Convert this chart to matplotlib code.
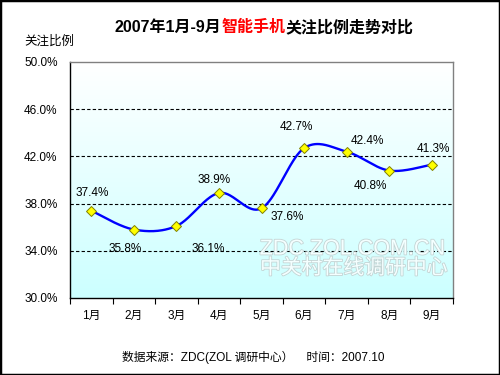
import numpy as np
import matplotlib
matplotlib.use("Agg")
import matplotlib.pyplot as plt
from matplotlib.patches import Rectangle
import matplotlib.patheffects as pe

plt.rcParams['font.family'] = ['Liberation Sans', 'Noto Sans CJK SC', 'DejaVu Sans']

months = ['1月', '2月', '3月', '4月', '5月', '6月', '7月', '8月', '9月']
values = [37.4, 35.8, 36.1, 38.9, 37.6, 42.7, 42.4, 40.8, 41.3]
yticks = [30.0, 34.0, 38.0, 42.0, 46.0, 50.0]
title_parts = ['2007年1月-9月', '智能手机', '关注比例走势对比']
title_colors = ['black', 'red', 'black']
ylabel = '关注比例'
footer = '数据来源：ZDC(ZOL 调研中心）    时间：2007.10'
watermark1 = 'ZDC.ZOL.COM.CN'
watermark2 = '中关村在线调研中心'

# label offsets in pixels (dx, dy)
label_offsets = [(1, 18), (-9, -19), (32, -23), (-5, 13), (26, -9),
                 (-8, 21), (21, 11), (-19, -15), (2, 16)]

W, H = 500, 375
fig = plt.figure(figsize=(5, 3.75), dpi=100)
ax = fig.add_axes([70 / W, 1 - 298 / H, (453 - 70) / W, (298 - 62) / H])

x = np.arange(len(values))
ax.set_xlim(-0.5, len(values) - 0.5)
ax.set_ylim(30, 50)

# gradient background
grad = np.linspace(0, 1, 256).reshape(-1, 1)
top = np.array([1.0, 1.0, 1.0])
bot = np.array([204, 255, 255]) / 255.0
img = top[None, None, :] * (1 - grad[:, :, None]) + bot[None, None, :] * grad[:, :, None]
ax.imshow(img, extent=[-0.5, len(values) - 0.5, 30, 50], aspect='auto', zorder=0)

# gridlines
for yv in yticks[1:-1]:
    ax.axhline(yv, color='black', linestyle=(0, (3, 2)), linewidth=0.8, zorder=1)

# smooth curve (Excel-like Bezier through the data points)
P = np.column_stack([x, values]).astype(float)
n = len(P)
curve = []
for i in range(n - 1):
    p0 = P[max(i - 1, 0)]
    p1 = P[i]
    p2 = P[i + 1]
    p3 = P[min(i + 2, n - 1)]
    c1 = p1 + (p2 - p0) / 6.0
    c2 = p2 - (p3 - p1) / 6.0
    t = np.linspace(0, 1, 40)[:, None]
    seg = ((1 - t) ** 3) * p1 + 3 * ((1 - t) ** 2) * t * c1 + 3 * (1 - t) * t ** 2 * c2 + t ** 3 * p2
    curve.append(seg if i == 0 else seg[1:])
curve = np.vstack(curve)
ax.plot(curve[:, 0], curve[:, 1], color='#0000ff', linewidth=1.7, zorder=3)
ax.plot(x, values, linestyle='none', marker='D', markersize=5,
        markerfacecolor='#ffff00', markeredgecolor='#808000', markeredgewidth=0.7, zorder=4)

for xi, v, (dx, dy) in zip(x, values, label_offsets):
    ax.annotate(f'{v:.1f}%', (xi, v), xytext=(dx, dy), textcoords='offset pixels',
                ha='center', va='center', fontsize=8.5, color='black', zorder=5)

# watermark
wm_effects = [pe.withStroke(linewidth=1.2, foreground='#c4d4d4')]
fig.text(352 / W, 1 - 249 / H, watermark1, ha='center', va='center', fontsize=15.5,
         color='#f4ffff', path_effects=wm_effects, zorder=2)
fig.text(354 / W, 1 - 268 / H, watermark2, ha='center', va='center', fontsize=15,
         color='#f4ffff', path_effects=wm_effects, zorder=2)

# axes styling
ax.set_xticks(np.arange(len(values) + 1) - 0.5)
ax.set_xticklabels([])
ax.tick_params(axis='x', direction='out', length=4, width=0.8, color='black')
for xi, m in zip(x, months):
    ax.text(xi, -0.075, m, transform=ax.get_xaxis_transform(), ha='center', va='center',
            fontsize=8.5)
ax.set_yticks(yticks)
ax.set_yticklabels([f'{v:.1f}%' for v in yticks], fontsize=8.5)
ax.tick_params(axis='y', length=0, pad=9)
ax.spines['left'].set_color('black')
ax.spines['bottom'].set_color('black')
ax.spines['top'].set_color('#808080')
ax.spines['right'].set_color('#808080')
for s in ax.spines.values():
    s.set_linewidth(1.0)

fig.text(24 / W, 1 - 42 / H, ylabel, ha='left', va='center', fontsize=9)
fig.text(253 / W, 1 - 357 / H, footer, ha='center', va='center', fontsize=8.5)

# multicolour title
fig.canvas.draw()
renderer = fig.canvas.get_renderer()
texts = []
widths = []
for s, c in zip(title_parts, title_colors):
    t = fig.text(0, 1 - 27 / H, s, color=c, fontsize=11.5, fontweight='bold', ha='left', va='center')
    texts.append(t)
    widths.append(t.get_window_extent(renderer).width)
total = sum(widths)
start = 264 - total / 2
for t, w in zip(texts, widths):
    t.set_x(start / W)
    start += w

fig.patches.append(Rectangle((0, 0), 1, 1, transform=fig.transFigure, fill=False,
                             edgecolor='black', linewidth=2.5, zorder=10))

fig.savefig('out.png', dpi=100)
